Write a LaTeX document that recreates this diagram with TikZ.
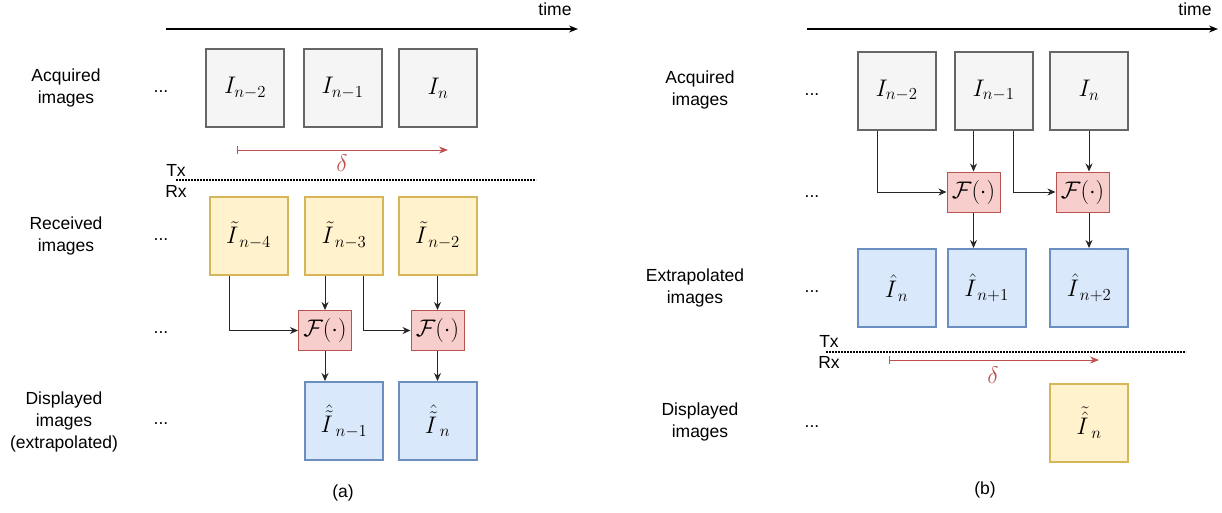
\RequirePackage{fix-cm}
\documentclass[tikz,border=0pt]{standalone}
\usepackage{fontspec}
\setmainfont{Liberation Sans}
\usepackage{amsmath}
\usetikzlibrary{arrows.meta,calc}
\definecolor{grayfill}{HTML}{F5F5F5}
\definecolor{graydraw}{HTML}{666666}
\definecolor{yelfill}{HTML}{FFF2CC}
\definecolor{yeldraw}{HTML}{D6B656}
\definecolor{redfill}{HTML}{F8CECC}
\definecolor{reddraw}{HTML}{B85450}
\definecolor{bluefill}{HTML}{DAE8FC}
\definecolor{bluedraw}{HTML}{6C8EBF}
\definecolor{deltacol}{HTML}{C0504D}
\begin{document}
\begin{tikzpicture}[x=1pt,y=-1pt,
  mfont/.style={font=\fontsize{24}{28}\selectfont},
  lbl/.style={font=\fontsize{17.5}{22}\selectfont, align=center, inner sep=0pt},
  img/.style={mfont, line width=2pt, minimum width=78pt, minimum height=78pt, inner sep=0pt},
  grayimg/.style={img, fill=grayfill, draw=graydraw},
  yelimg/.style={img, fill=yelfill, draw=yeldraw},
  blueimg/.style={img, fill=bluefill, draw=bluedraw},
  fbox/.style={mfont, fill=redfill, draw=reddraw, line width=1pt, minimum width=53pt, minimum height=40pt, inner sep=0pt},
  arr/.style={-{Stealth[length=8pt,width=7pt]}, line width=0.9pt, draw=black!85},
  timearr/.style={-{Stealth[length=9pt,width=7pt]}, line width=1.1pt},
  deltaarr/.style={{Bar[width=8pt]}-{Stealth[length=9pt,width=7pt]}, line width=1pt, draw=deltacol},
  txrx/.style={dash pattern=on 1.6pt off 1.4pt, line width=1.6pt},
  dots/.style={lbl}
]
\useasboundingbox (0,0) rectangle (1222,512);

% ---------------- (a) ----------------
\coordinate (ta0) at (166,29);
\coordinate (ta1) at (578,29);
\draw[timearr] (ta0) -- (ta1);
\node[lbl] (timea) at (555,9) {time};

\node[lbl] (acqa) at (66,88) {Acquired\\images};
\node[dots] (da1) at (161,92) {...};
\node[grayimg] (an2) at (245,88) {$I_{n-2}$};
\node[grayimg] (an1) at (342.5,88) {$I_{n-1}$};
\node[grayimg] (an0) at (438,88) {$I_{n}$};

\coordinate (dla0) at (237,150);
\coordinate (dla1) at (448,150);
\draw[deltaarr] (dla0) -- (dla1);
\node[mfont, text=deltacol] (dlta) at (342,163) {$\delta$};

\node[lbl] (txa) at (176,170) {Tx};
\node[lbl] (rxa) at (176,191) {Rx};
\coordinate (la0) at (176,180);
\coordinate (la1) at (536,180);
\draw[txrx] (la0) -- (la1);

\node[lbl] (reca) at (66,236) {Received\\images};
\node[dots] (da2) at (161,240) {...};
\node[yelimg] (yn4) at (248.5,235.5) {${\tilde{I}}_{\,n-4}$};
\node[yelimg] (yn3) at (344,235.5) {${\tilde{I}}_{\,n-3}$};
\node[yelimg] (yn2) at (437.5,235.5) {${\tilde{I}}_{\,n-2}$};

\node[dots] (da3) at (161,333) {...};
\node[fbox] (fa1) at (325,330.5) {$\mathcal{F}(\cdot)$};
\node[fbox] (fa2) at (437.5,330.5) {$\mathcal{F}(\cdot)$};

\node[lbl] (disa) at (64,422) {Displayed\\images\\(extrapolated)};
\node[dots] (da4) at (161,424) {...};
\node[blueimg] (ba1) at (344,421) {${\hat{\tilde{I}}}_{\,n-1}$};
\node[blueimg] (ba0) at (437.5,421) {${\hat{\tilde{I}}}_{\,n}$};

\draw[arr] ([xshift=-19.5pt]yn4.south) |- (fa1.west);
\draw[arr] (yn3.south -| fa1.north) -- (fa1.north);
\draw[arr] ([xshift=19pt]yn3.south) |- (fa2.west);
\draw[arr] (yn2.south) -- (fa2.north);
\draw[arr] (fa1.south) -- (fa1.south |- ba1.north);
\draw[arr] (fa2.south) -- (ba0.north);

\node[lbl] (capa) at (343,493) {(a)};

% ---------------- (b) ----------------
\coordinate (tb0) at (807,29);
\coordinate (tb1) at (1218,29);
\draw[timearr] (tb0) -- (tb1);
\node[lbl] (timeb) at (1195,9) {time};

\node[lbl] (acqb) at (700,90) {Acquired\\images};
\node[dots] (db1) at (812,95) {...};
\node[grayimg] (bn2) at (896.5,90.5) {$I_{n-2}$};
\node[grayimg] (bn1) at (993.5,90.5) {$I_{n-1}$};
\node[grayimg] (bn0) at (1089,90.5) {$I_{n}$};

\node[dots] (db2) at (812,197) {...};
\node[fbox] (fb1) at (973.5,192) {$\mathcal{F}(\cdot)$};
\node[fbox] (fb2) at (1082.5,192) {$\mathcal{F}(\cdot)$};

\node[lbl] (extb) at (695,288) {Extrapolated\\images};
\node[dots] (db3) at (812,292) {...};
\node[blueimg] (eb0) at (896.5,288) {${\hat{I}}_{\,n}$};
\node[blueimg] (eb1) at (986.5,288) {${\hat{I}}_{\,n+1}$};
\node[blueimg] (eb2) at (1089,288) {${\hat{I}}_{\,n+2}$};

\draw[arr] ([xshift=-19.5pt]bn2.south) |- (fb1.west);
\draw[arr] (bn1.south -| fb1.north) -- (fb1.north);
\draw[arr] ([xshift=19.5pt]bn1.south) |- (fb2.west);
\draw[arr] (bn0.south) -- (bn0.south |- fb2.north);
\draw[arr] (fb1.south) -- (fb1.south |- eb1.north);
\draw[arr] (bn0.south |- fb2.south) -- (eb2.north);

\node[lbl] (txb) at (829,341) {Tx};
\node[lbl] (rxb) at (829,362) {Rx};
\coordinate (lb0) at (826,352);
\coordinate (lb1) at (1186,352);
\draw[txrx] (lb0) -- (lb1);

\coordinate (dlb0) at (889,360);
\coordinate (dlb1) at (1099,360);
\draw[deltaarr] (dlb0) -- (dlb1);
\node[mfont, text=deltacol] (dltb) at (993,375) {$\delta$};

\node[lbl] (disb) at (700,422) {Displayed\\images};
\node[dots] (db4) at (812,427) {...};
\node[yelimg] (yb0) at (1089,422.5) {${\tilde{\hat{I}}}_{\,n}$};

\node[lbl] (capb) at (985,490) {(b)};
\end{tikzpicture}
\end{document}
